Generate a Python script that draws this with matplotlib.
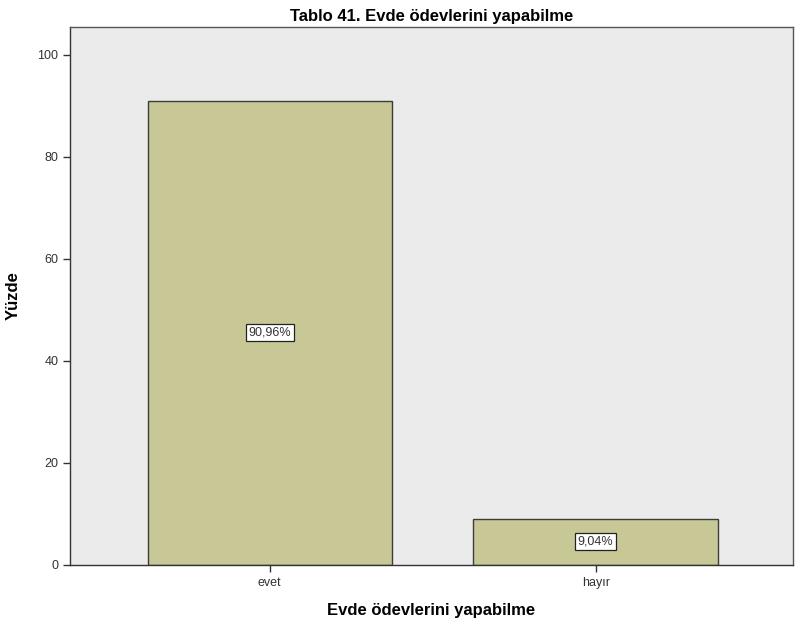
import matplotlib
matplotlib.use("Agg")
import matplotlib.pyplot as plt

categories = ["evet", "hayır"]
values = [90.96, 9.04]
labels = ["90,96%", "9,04%"]
yticks = [0, 20, 40, 60, 80, 100]

plt.rcParams['font.family'] = ['Liberation Sans', 'DejaVu Sans']

fig = plt.figure(figsize=(7.96, 6.31), dpi=100)
ax = fig.add_axes([0.088, 0.1046, 0.908, 0.853])
ax.set_facecolor('#ebebeb')

x = list(range(len(categories)))
ax.bar(x, values, width=0.75, color='#c8c896', edgecolor='#3c3c3c', linewidth=1.0, zorder=2)
for xi, v, lab in zip(x, values, labels):
    ax.text(xi, v / 2, lab, ha='center', va='center', fontsize=9, color='#333333',
            bbox=dict(boxstyle='square,pad=0.2', facecolor='white', edgecolor='#222222', linewidth=0.9),
            zorder=3)

ax.set_xlim(-0.613, 1.605)
ax.set_ylim(0, 105.5)
ax.set_xticks(x)
ax.set_xticklabels(categories, fontsize=9, color='#333333')
ax.set_yticks(yticks)
ax.set_yticklabels([str(t) for t in yticks], fontsize=9, color='#333333')
ax.tick_params(axis='both', direction='out', length=5, width=1, color='#333333')
for s in ax.spines.values():
    s.set_color('#555555')
    s.set_linewidth(1.0)
ax.spines['left'].set_color('#333333')
ax.spines['bottom'].set_color('#333333')

ax.set_xlabel("Evde ödevlerini yapabilme", fontsize=12, fontweight='bold', labelpad=10)
ax.set_ylabel("Yüzde", fontsize=12, fontweight='bold', labelpad=12)
ax.set_title("Tablo 41. Evde ödevlerini yapabilme", fontsize=12, fontweight='bold', pad=4)

fig.savefig("out.png", dpi=100)
